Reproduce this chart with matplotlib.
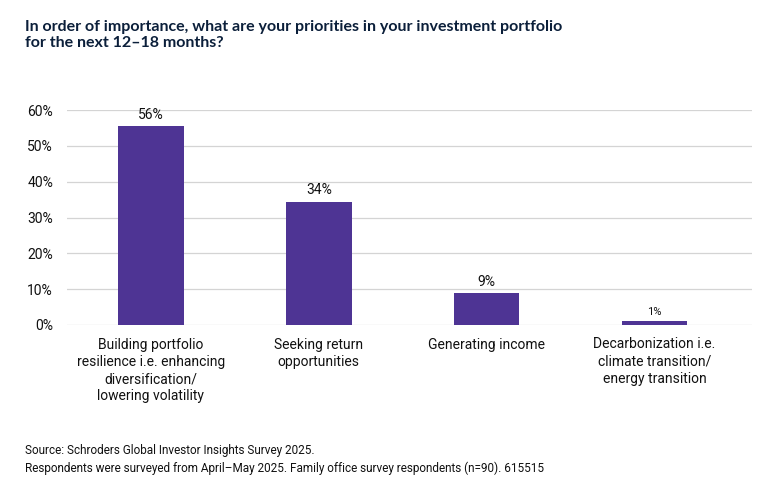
import numpy as np
import matplotlib.pyplot as plt

categories = ['Building portfolio\nresilience i.e. enhancing\ndiversification/\nlowering volatility',
              'Seeking return\nopportunities',
              'Generating income',
              'Decarbonization i.e.\nclimate transition/\nenergy transition']
values = [55.5, 34.4, 8.9, 1.1]
labels = ['56%', '34%', '9%', '1%']
yticks = [0, 10, 20, 30, 40, 50, 60]

plt.rcParams['font.family'] = ['Roboto', 'DejaVu Sans']

fig = plt.figure(figsize=(7.7, 4.96), dpi=100)
ax = fig.add_axes([67/770, 1-325/496, 685/770, 215/496])

x = np.arange(len(values))
ax.bar(x, values, width=0.39, color='#4e3494', zorder=3)
for i in range(len(values)):
    fs = 8 if labels[i] == '1%' else 10
    ax.text(x[i], values[i] + 1.2, labels[i], ha='center', va='bottom', fontsize=fs, color='#111111')

ax.set_xlim(-0.5, 3.58)
ax.set_ylim(0, 60)
ax.set_yticks(yticks)
ax.set_yticklabels([str(t) + '%' for t in yticks], fontsize=10, color='#111111')
ax.set_xticks(x)
ax.set_xticklabels(categories, fontsize=10, color='#111111', linespacing=1.3, va='top')
ax.tick_params(axis='both', length=0)
ax.tick_params(axis='y', pad=10)
ax.tick_params(axis='x', pad=9)
ax.grid(axis='y', color='#d4d4d4', linewidth=0.9, zorder=0)
for s in ax.spines.values():
    s.set_visible(False)

fig.text(25/770, 1-20/496, 'In order of importance, what are your priorities in your investment portfolio\nfor the next 12\u201318 months?',
         ha='left', va='top', fontsize=11.5, fontweight='bold', color='#0b1f3a', linespacing=1.15,
         family=['Lato', 'DejaVu Sans'])
fig.text(25/770, 1-444/496, 'Source: Schroders Global Investor Insights Survey 2025.\nRespondents were surveyed from April\u2013May 2025. Family office survey respondents (n=90). 615515',
         ha='left', va='top', fontsize=8.5, color='#111111', linespacing=1.4)

fig.savefig('out.png', dpi=100)
